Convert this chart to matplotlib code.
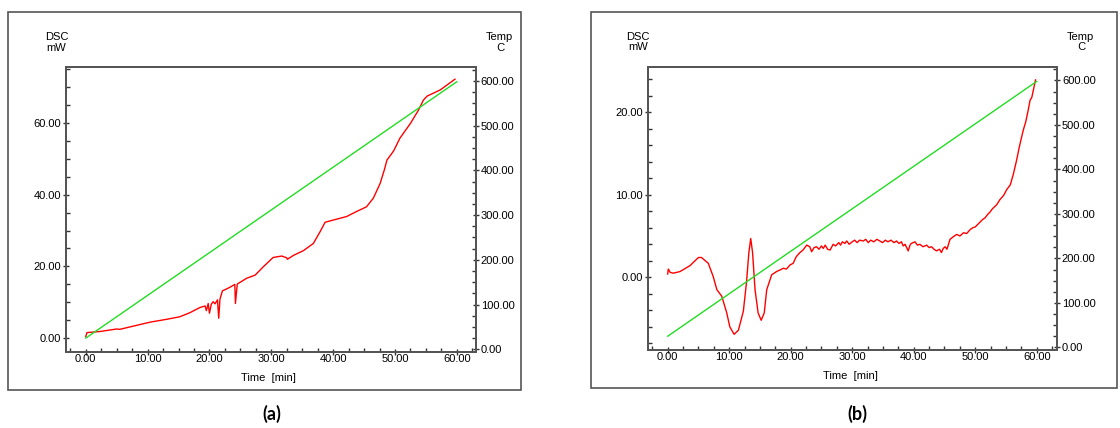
import matplotlib.pyplot as plt
from matplotlib.patches import Rectangle
from matplotlib.ticker import MultipleLocator, FormatStrFormatter

plt.rcParams.update(
    {
        "font.family": ["Liberation Sans", "DejaVu Sans"],
        "xtick.labelsize": 8,
        "ytick.labelsize": 8,
    }
)

# --- data ---
temp_time = [0.0, 60.0]
temp_vals = [25.0, 598.0]

time_a = [0.0, 0.2, 0.9, 2.3, 5.0, 5.5, 7.7, 10.4, 13.1, 15.2, 16.8, 18.5,
          19.3, 19.5, 19.8, 20.0, 20.3, 20.6, 20.9, 21.3, 21.5, 21.7, 22.1,
          23.3, 24.1, 24.2, 24.5, 26.0, 27.4, 28.7, 30.3, 31.7, 32.5, 32.6,
          33.6, 35.2, 36.8, 37.9, 38.7, 40.0, 42.2, 43.8, 45.4, 46.5, 47.6,
          48.3, 48.7, 49.3, 49.8, 50.8, 52.5, 53.8, 54.6, 55.2, 57.3, 59.7]
dsc_a = [0.5, 1.6, 1.7, 1.9, 2.6, 2.5, 3.4, 4.5, 5.3, 6.0, 7.1, 8.6,
         9.0, 7.7, 9.7, 7.0, 9.5, 10.2, 9.6, 10.7, 5.6, 10.9, 13.2,
         14.2, 15.0, 9.7, 15.1, 16.7, 17.6, 19.9, 22.5, 22.9, 22.4, 22.0,
         23.1, 24.4, 26.4, 29.7, 32.3, 32.9, 33.9, 35.3, 36.6, 39.0, 43.1,
         47.0, 49.6, 51.0, 52.2, 55.7, 59.8, 63.5, 66.3, 67.4, 69.1, 72.1]

time_b = [0.0, 0.1, 0.4, 0.9, 2.0, 3.6, 5.0, 5.5, 6.6, 7.4, 8.0, 8.8, 9.6,
          10.1, 10.8, 11.5, 12.3, 12.8, 13.2, 13.5, 13.8, 14.2, 14.7, 15.2,
          15.7, 16.1, 16.9, 17.7, 18.3, 18.8, 19.3, 19.9, 20.4, 20.9, 21.5,
          22.0, 22.6, 23.1, 23.4, 23.8, 24.2, 24.6, 25.0, 25.3, 25.6, 26.0,
          26.4, 26.9, 27.3, 27.8, 28.1, 28.4, 28.8, 29.1, 29.5, 30.0, 30.4,
          30.8, 31.2, 31.8, 32.2, 32.6, 33.0, 33.5, 34.0, 34.5, 34.9, 35.4,
          35.8, 36.3, 36.8, 37.2, 37.6, 38.0, 38.3, 38.6, 39.1, 39.4, 39.6,
          40.2, 40.6, 41.0, 41.5, 42.1, 42.5, 42.9, 43.3, 43.7, 44.2, 44.5,
          44.8, 45.1, 45.4, 45.9, 46.4, 47.0, 47.5, 48.1, 48.6, 49.2, 49.6,
          50.0, 50.4, 50.8, 51.2, 51.6, 52.0, 52.4, 52.8, 53.5, 54.0, 54.6,
          55.1, 55.7, 56.2, 56.7, 57.2, 57.8, 58.2, 58.6, 58.9, 59.2, 59.8]
dsc_b = [0.4, 1.0, 0.6, 0.5, 0.7, 1.4, 2.4, 2.4, 1.7, 0.1, -1.5, -2.3, -4.3,
         -6.0, -6.9, -6.4, -4.1, -0.7, 3.0, 4.7, 3.0, -1.5, -4.3, -5.2,
         -4.3, -1.5, 0.3, 0.7, 0.9, 1.1, 1.0, 1.5, 1.7, 2.5, 3.0,
         3.3, 3.9, 3.7, 3.1, 3.6, 3.7, 3.4, 3.8, 3.5, 3.9, 3.4,
         3.3, 4.0, 3.8, 4.2, 3.9, 4.3, 4.1, 4.4, 4.0, 4.3, 4.5,
         4.2, 4.5, 4.4, 4.6, 4.2, 4.5, 4.3, 4.6, 4.4, 4.2, 4.5,
         4.3, 4.5, 4.2, 4.4, 4.1, 4.3, 3.8, 4.0, 3.2, 3.9, 4.1,
         4.3, 3.9, 4.0, 3.7, 3.9, 3.6, 3.7, 3.4, 3.2, 3.4, 3.0,
         3.5, 3.7, 3.4, 4.6, 4.9, 5.2, 5.0, 5.4, 5.3, 5.8, 6.0,
         6.1, 6.4, 6.7, 7.0, 7.2, 7.6, 7.9, 8.3, 8.8, 9.4, 9.9,
         10.6, 11.2, 12.5, 14.1, 15.9, 17.8, 18.8, 20.2, 21.4, 21.8, 23.9]

panels = [
    # label, time, dsc, axes rect, box rect, dsc limits, major, minor, xlim, label x
    ("(a)", time_a, dsc_a, [0.0589, 0.1776, 0.3661, 0.6659],
     [8, 12, 513, 378], (-3.8, 75.5), 20, 5, (-3.2, 63.1), 272),
    ("(b)", time_b, dsc_b, [0.5783, 0.1822, 0.3655, 0.6620],
     [591, 12, 526, 376], (-8.8, 25.5), 10, 2, (-3.25, 63.3), 857),
]

W, H = 1120, 428
fig = plt.figure(figsize=(W / 100, H / 100), dpi=100)

for label, t, d, rect, box, ylim, major, minor, xlim, lx in panels:
    # outer frame
    fig.patches.append(
        Rectangle((box[0] / W, 1 - (box[1] + box[3]) / H), box[2] / W, box[3] / H,
                  transform=fig.transFigure, fill=False, edgecolor="#555555",
                  linewidth=1.2)
    )

    ax = fig.add_axes(rect)
    ax2 = ax.twinx()

    ax.plot(t, d, color="#ff0000", linewidth=1)
    ax2.plot(temp_time, temp_vals, color="#22dd22", linewidth=1)

    ax.set_xlim(*xlim)
    ax.set_ylim(*ylim)
    ax2.set_ylim(-6, 631)

    ax.xaxis.set_major_locator(MultipleLocator(10))
    ax.xaxis.set_minor_locator(MultipleLocator(2.5))
    ax.yaxis.set_major_locator(MultipleLocator(major))
    ax.yaxis.set_minor_locator(MultipleLocator(minor))
    ax2.yaxis.set_major_locator(MultipleLocator(100))
    ax2.yaxis.set_minor_locator(MultipleLocator(25))
    for a in (ax, ax2):
        a.xaxis.set_major_formatter(FormatStrFormatter("%.2f"))
        a.yaxis.set_major_formatter(FormatStrFormatter("%.2f"))
        a.tick_params(which="major", direction="inout", length=5, width=1,
                      color="#333333", pad=1)
        a.tick_params(which="minor", direction="in", length=3, width=1,
                      color="#333333")
        for s in a.spines.values():
            s.set_color("#555555")
            s.set_linewidth(1.4)
    ax.tick_params(axis="x", pad=-1)

    x0, y0, w, h = rect
    fig.text(x0 - 0.0085, y0 + h + 0.057, "DSC\nmW", ha="center", va="center",
             fontsize=8, linespacing=1.05)
    fig.text(x0 + w + 0.021, y0 + h + 0.057, "Temp\n C", ha="center", va="center",
             fontsize=8, linespacing=1.05)
    fig.text(x0 + w * 0.495, y0 - 0.06, "Time  [min]", ha="center", va="center",
             fontsize=8)
    fig.text(lx / W, 0.032, label, ha="center",
             va="center", fontsize=13, fontweight="bold", family="Lato")

fig.savefig("out.png", dpi=100)
